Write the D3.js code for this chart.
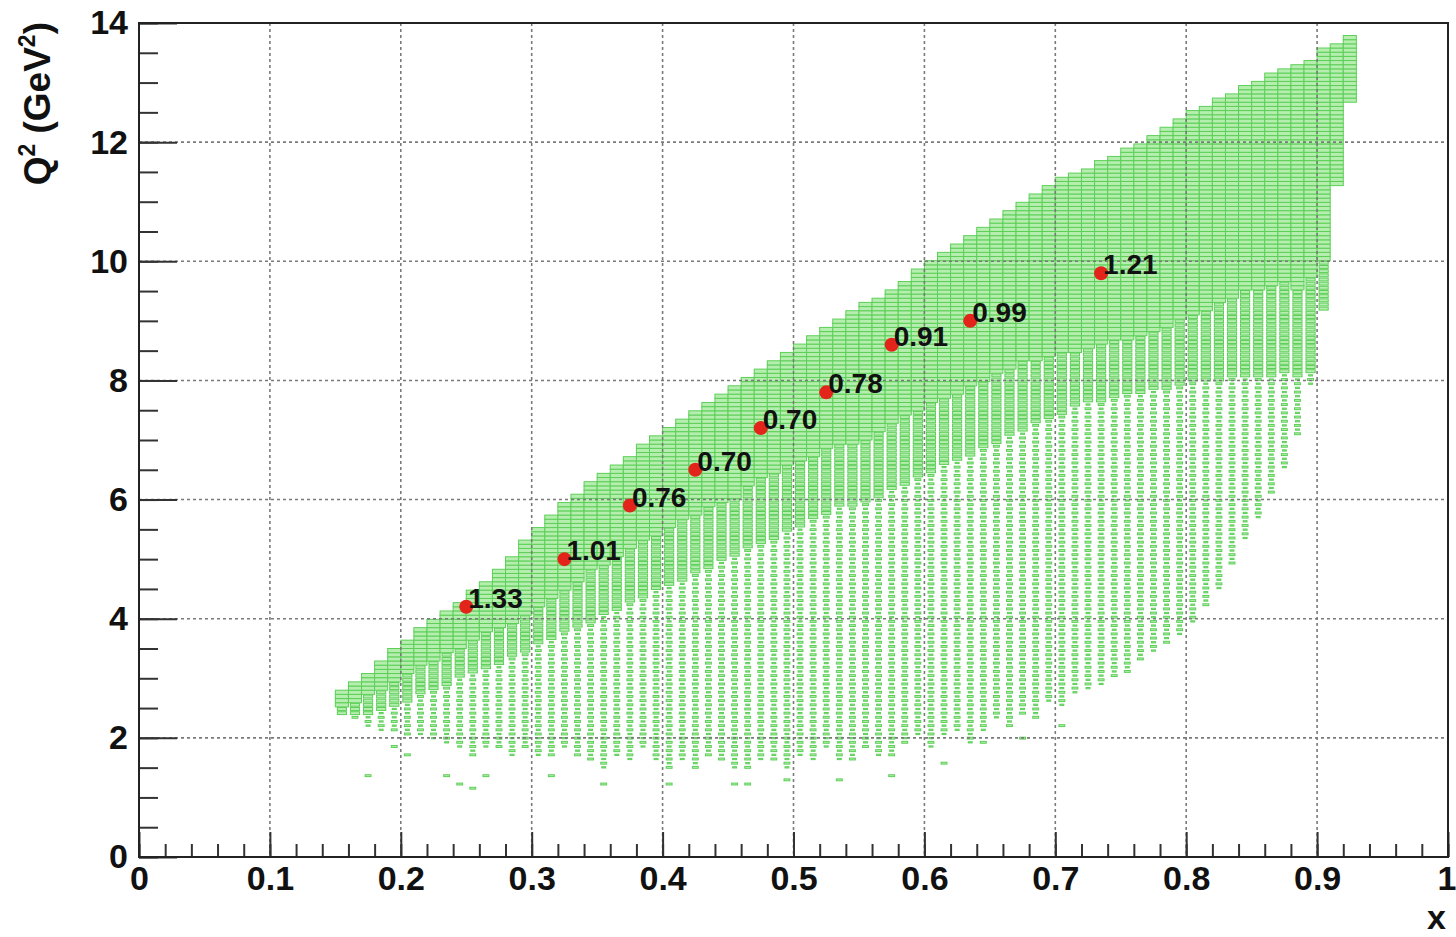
<!DOCTYPE html>
<html>
<head>
<meta charset="utf-8">
<script src="https://cdn.jsdelivr.net/npm/d3@7"></script>
<style>
  body { margin: 0; background: #fff; }
  text { font-family: "Liberation Sans", Arial, Helvetica, sans-serif; font-weight: bold; }
</style>
</head>
<body>
<div id="my_dataviz"></div>
<script>
// histogram columns: left edge of each x bin (bin width 0.01)
var colX = [0.15,0.16,0.17,0.18,0.19,0.20,0.21,0.22,0.23,0.24,0.25,0.26,0.27,0.28,0.29,
  0.30,0.31,0.32,0.33,0.34,0.35,0.36,0.37,0.38,0.39,0.40,0.41,0.42,0.43,0.44,
  0.45,0.46,0.47,0.48,0.49,0.50,0.51,0.52,0.53,0.54,0.55,0.56,0.57,0.58,0.59,
  0.60,0.61,0.62,0.63,0.64,0.65,0.66,0.67,0.68,0.69,0.70,0.71,0.72,0.73,0.74,
  0.75,0.76,0.77,0.78,0.79,0.80,0.81,0.82,0.83,0.84,0.85,0.86,0.87,0.88,0.89,
  0.90,0.91,0.92];
// upper edge of the filled band (Q2)
var colTop = [2.8,2.95,3.1,3.3,3.5,3.67,3.85,4.0,4.15,4.3,4.47,4.65,4.85,5.05,5.3,
  5.55,5.75,5.95,6.1,6.3,6.45,6.6,6.75,6.9,7.05,7.2,7.35,7.5,7.65,7.8,
  7.9,8.05,8.2,8.35,8.5,8.62,8.75,8.9,9.0,9.15,9.28,9.4,9.55,9.68,9.85,
  10.0,10.15,10.3,10.45,10.6,10.72,10.85,10.98,11.1,11.25,11.4,11.5,11.58,11.68,11.78,
  11.88,11.95,12.1,12.24,12.39,12.5,12.6,12.72,12.83,12.93,13.03,13.13,13.22,13.3,13.4,
  13.55,13.68,13.8];
// lower edge of the fully populated bins
var colFullBot = [2.55,2.6,2.7,2.8,2.95,3.1,3.2,3.3,3.4,3.5,3.65,3.75,3.85,3.95,4.05,
  4.2,4.35,4.5,4.65,4.8,4.9,5.05,5.2,5.3,5.4,5.55,5.65,5.75,5.85,5.95,
  6.05,6.2,6.35,6.45,6.55,6.65,6.75,6.85,6.9,6.95,7.0,7.15,7.3,7.4,7.5,
  7.6,7.7,7.8,7.9,8.0,8.1,8.2,8.3,8.35,8.4,8.45,8.5,8.55,8.6,8.65,
  8.7,8.75,8.8,8.9,9.0,9.1,9.2,9.3,9.4,9.5,9.55,9.6,9.65,9.55,9.7,
  10.0,11.3,12.7];
// lower edge of the medium populated bins
var colMidBot = [2.4,2.35,2.4,2.45,2.55,2.6,2.7,2.8,2.9,3.0,3.1,3.15,3.25,3.35,3.45,
  3.55,3.65,3.75,3.85,3.95,4.05,4.15,4.25,4.35,4.45,4.55,4.65,4.75,4.85,4.95,
  5.05,5.15,5.25,5.35,5.45,5.55,5.65,5.75,5.85,5.9,5.95,6.05,6.15,6.25,6.35,
  6.45,6.55,6.65,6.75,6.85,6.95,7.05,7.15,7.25,7.35,7.45,7.55,7.6,7.65,7.7,
  7.75,7.8,7.85,7.85,7.9,7.95,7.95,8.0,8.05,8.05,8.05,8.05,8.1,8.05,8.1,
  9.2,11.3,12.7];
// lower edge of the sparse bins
var colLow = [2.55,2.3,2.2,2.1,2.1,2.0,2.0,1.95,1.9,1.85,1.7,1.8,1.8,1.7,1.8,
  1.7,1.7,1.8,1.7,1.6,1.5,1.7,1.6,1.8,1.6,1.5,1.6,1.5,1.7,1.6,
  1.5,1.5,1.6,1.6,1.5,1.7,1.6,1.8,1.6,1.6,1.8,1.7,1.7,1.9,2.0,
  1.8,2.0,2.1,1.9,2.1,2.3,2.2,2.4,2.3,2.6,2.5,2.7,2.8,2.9,3.0,
  3.1,3.3,3.4,3.6,3.7,3.9,4.2,4.5,4.9,5.3,5.7,6.1,6.5,7.1,7.9,
  9.2,11.3,12.7];
// isolated bins below the populated area
var strayX = [0.17,0.19,0.20,0.23,0.24,0.25,0.26,0.31,0.35,0.40,0.45,0.46,0.49,0.53,0.57,0.61,0.64,0.67,0.70];
var strayY = [1.37,1.85,1.75,1.4,1.2,1.12,1.4,1.35,1.25,1.2,1.2,1.25,1.3,1.3,1.4,1.6,1.9,2.0,2.2];

// red points and their labels
var pointX = [0.25,0.325,0.375,0.425,0.475,0.525,0.575,0.635,0.735];
var pointY = [4.2,5.0,5.9,6.5,7.2,7.8,8.6,9.0,9.8];
var pointLabel = ["1.33","1.01","0.76","0.70","0.70","0.78","0.91","0.99","1.21"];

var xTicks = [0,0.1,0.2,0.3,0.4,0.5,0.6,0.7,0.8,0.9,1];
var xTickLabels = ["0","0.1","0.2","0.3","0.4","0.5","0.6","0.7","0.8","0.9","1"];
var yTicks = [0,2,4,6,8,10,12,14];
var yTickLabels = ["0","2","4","6","8","10","12","14"];

var margin = {top: 23, right: 8, bottom: 80, left: 139},
    width = 1456 - margin.left - margin.right,
    height = 937 - margin.top - margin.bottom;

var root = d3.select("#my_dataviz")
  .append("svg")
  .attr("width", 1456)
  .attr("height", 937)
  .style("background", "#fff");

var svg = root.append("g")
  .attr("transform", "translate(" + margin.left + "," + margin.top + ")");

var x = d3.scaleLinear().domain([0, 1]).range([0, width]);
var y = d3.scaleLinear().domain([0, 14]).range([height, 0]);

// build the box list (x bins 0.01, y bins 0.07)
var dx = 0.01, dy = 0.07, nY = 200;
var boxes = [];
colX.forEach(function(x0, i) {
  for (var j = 0; j < nY; j++) {
    var y0 = j * dy, yc = y0 + dy / 2, s = 0;
    if (yc <= colTop[i] && yc >= colFullBot[i]) s = 1;
    else if (yc < colFullBot[i] && yc >= colMidBot[i]) s = 0.7;
    else if (yc < colMidBot[i] && yc >= colLow[i]) s = (i + j) % 2 == 0 ? 0.45 : 0.3;
    if (s > 0) boxes.push({x0: x0, y0: y0, s: s});
  }
});
strayX.forEach(function(sx, k) {
  boxes.push({x0: sx, y0: Math.floor(strayY[k] / dy) * dy, s: 0.45});
});

svg.append("g").selectAll("rect")
  .data(boxes)
  .enter().append("rect")
  .attr("x", function(d) { return x(d.x0 + dx * (1 - d.s) / 2); })
  .attr("width", function(d) { return x(dx * d.s) - x(0); })
  .attr("y", function(d) { return y(d.y0 + dy * (1 + d.s) / 2); })
  .attr("height", function(d) { return y(0) - y(dy * d.s); })
  .attr("fill", "#b6eeb0")
  .attr("stroke", "#5ccf57")
  .attr("stroke-width", 1);

// grid
var grid = svg.append("g")
  .attr("stroke", "#7a7a7a")
  .attr("stroke-width", 1.6)
  .attr("stroke-dasharray", "3,3");
grid.selectAll("line.v")
  .data(xTicks.slice(1, -1))
  .enter().append("line")
  .attr("x1", function(d) { return x(d); })
  .attr("x2", function(d) { return x(d); })
  .attr("y1", 0).attr("y2", height);
grid.selectAll("line.h")
  .data(yTicks.slice(1, -1))
  .enter().append("line")
  .attr("y1", function(d) { return y(d); })
  .attr("y2", function(d) { return y(d); })
  .attr("x1", 0).attr("x2", width);

// axes: ROOT style, ticks pointing inward
function styleAxis(g) {
  g.select(".domain").remove();
  g.selectAll("line").attr("stroke", "#333").attr("stroke-width", 2);
  g.selectAll("text").attr("fill", "#111")
    .style("font-family", '"Liberation Sans", Arial, sans-serif')
    .style("font-weight", "bold").style("font-size", "34px");
}

svg.append("g")
  .attr("transform", "translate(0," + height + ")")
  .call(d3.axisBottom(x).tickValues(d3.range(0, 1.001, 0.02)).tickSizeInner(-13).tickSizeOuter(0).tickFormat(""))
  .call(styleAxis);
var xAxis = svg.append("g")
  .attr("transform", "translate(0," + height + ")")
  .call(d3.axisBottom(x).tickValues(xTicks).tickSizeInner(-25).tickSizeOuter(0).tickPadding(9)
    .tickFormat(function(d, i) { return xTickLabels[i]; }))
  .call(styleAxis);
// keep the last label inside the page
xAxis.selectAll("text").filter(function(d) { return d === 1; }).attr("text-anchor", "end").attr("x", 8);

svg.append("g")
  .call(d3.axisLeft(y).tickValues(d3.range(0, 14.001, 0.5)).tickSizeInner(-19).tickSizeOuter(0).tickFormat(""))
  .call(styleAxis);
svg.append("g")
  .call(d3.axisLeft(y).tickValues(yTicks).tickSizeInner(-38).tickSizeOuter(0).tickPadding(11)
    .tickFormat(function(d, i) { return yTickLabels[i]; }))
  .call(styleAxis);

// frame
svg.append("rect")
  .attr("x", 0).attr("y", 0)
  .attr("width", width).attr("height", height)
  .attr("fill", "none")
  .attr("stroke", "#222")
  .attr("stroke-width", 2);

// red points
svg.append("g").selectAll("circle")
  .data(pointX)
  .enter().append("circle")
  .attr("cx", function(d) { return x(d); })
  .attr("cy", function(d, i) { return y(pointY[i]); })
  .attr("r", 7)
  .attr("fill", "#e3241b");

svg.append("g").selectAll("text")
  .data(pointX)
  .enter().append("text")
  .attr("x", function(d) { return x(d) + 2; })
  .attr("y", function(d, i) { return y(pointY[i]) + 1; })
  .attr("font-size", 28)
  .attr("fill", "#111")
  .text(function(d, i) { return pointLabel[i]; });

// axis titles
var yt = root.append("text")
  .attr("transform", "translate(50,22) rotate(-90)")
  .attr("text-anchor", "end")
  .attr("font-size", 37)
  .attr("fill", "#111");
yt.append("tspan").text("Q");
yt.append("tspan").attr("dy", -15).attr("font-size", 23).text("2");
yt.append("tspan").attr("dy", 15).text(" (GeV");
yt.append("tspan").attr("dy", -15).attr("font-size", 23).text("2");
yt.append("tspan").attr("dy", 15).text(")");

root.append("text")
  .attr("x", 1446)
  .attr("y", 929)
  .attr("text-anchor", "end")
  .attr("font-size", 34)
  .attr("fill", "#111")
  .text("x");
</script>
</body>
</html>
